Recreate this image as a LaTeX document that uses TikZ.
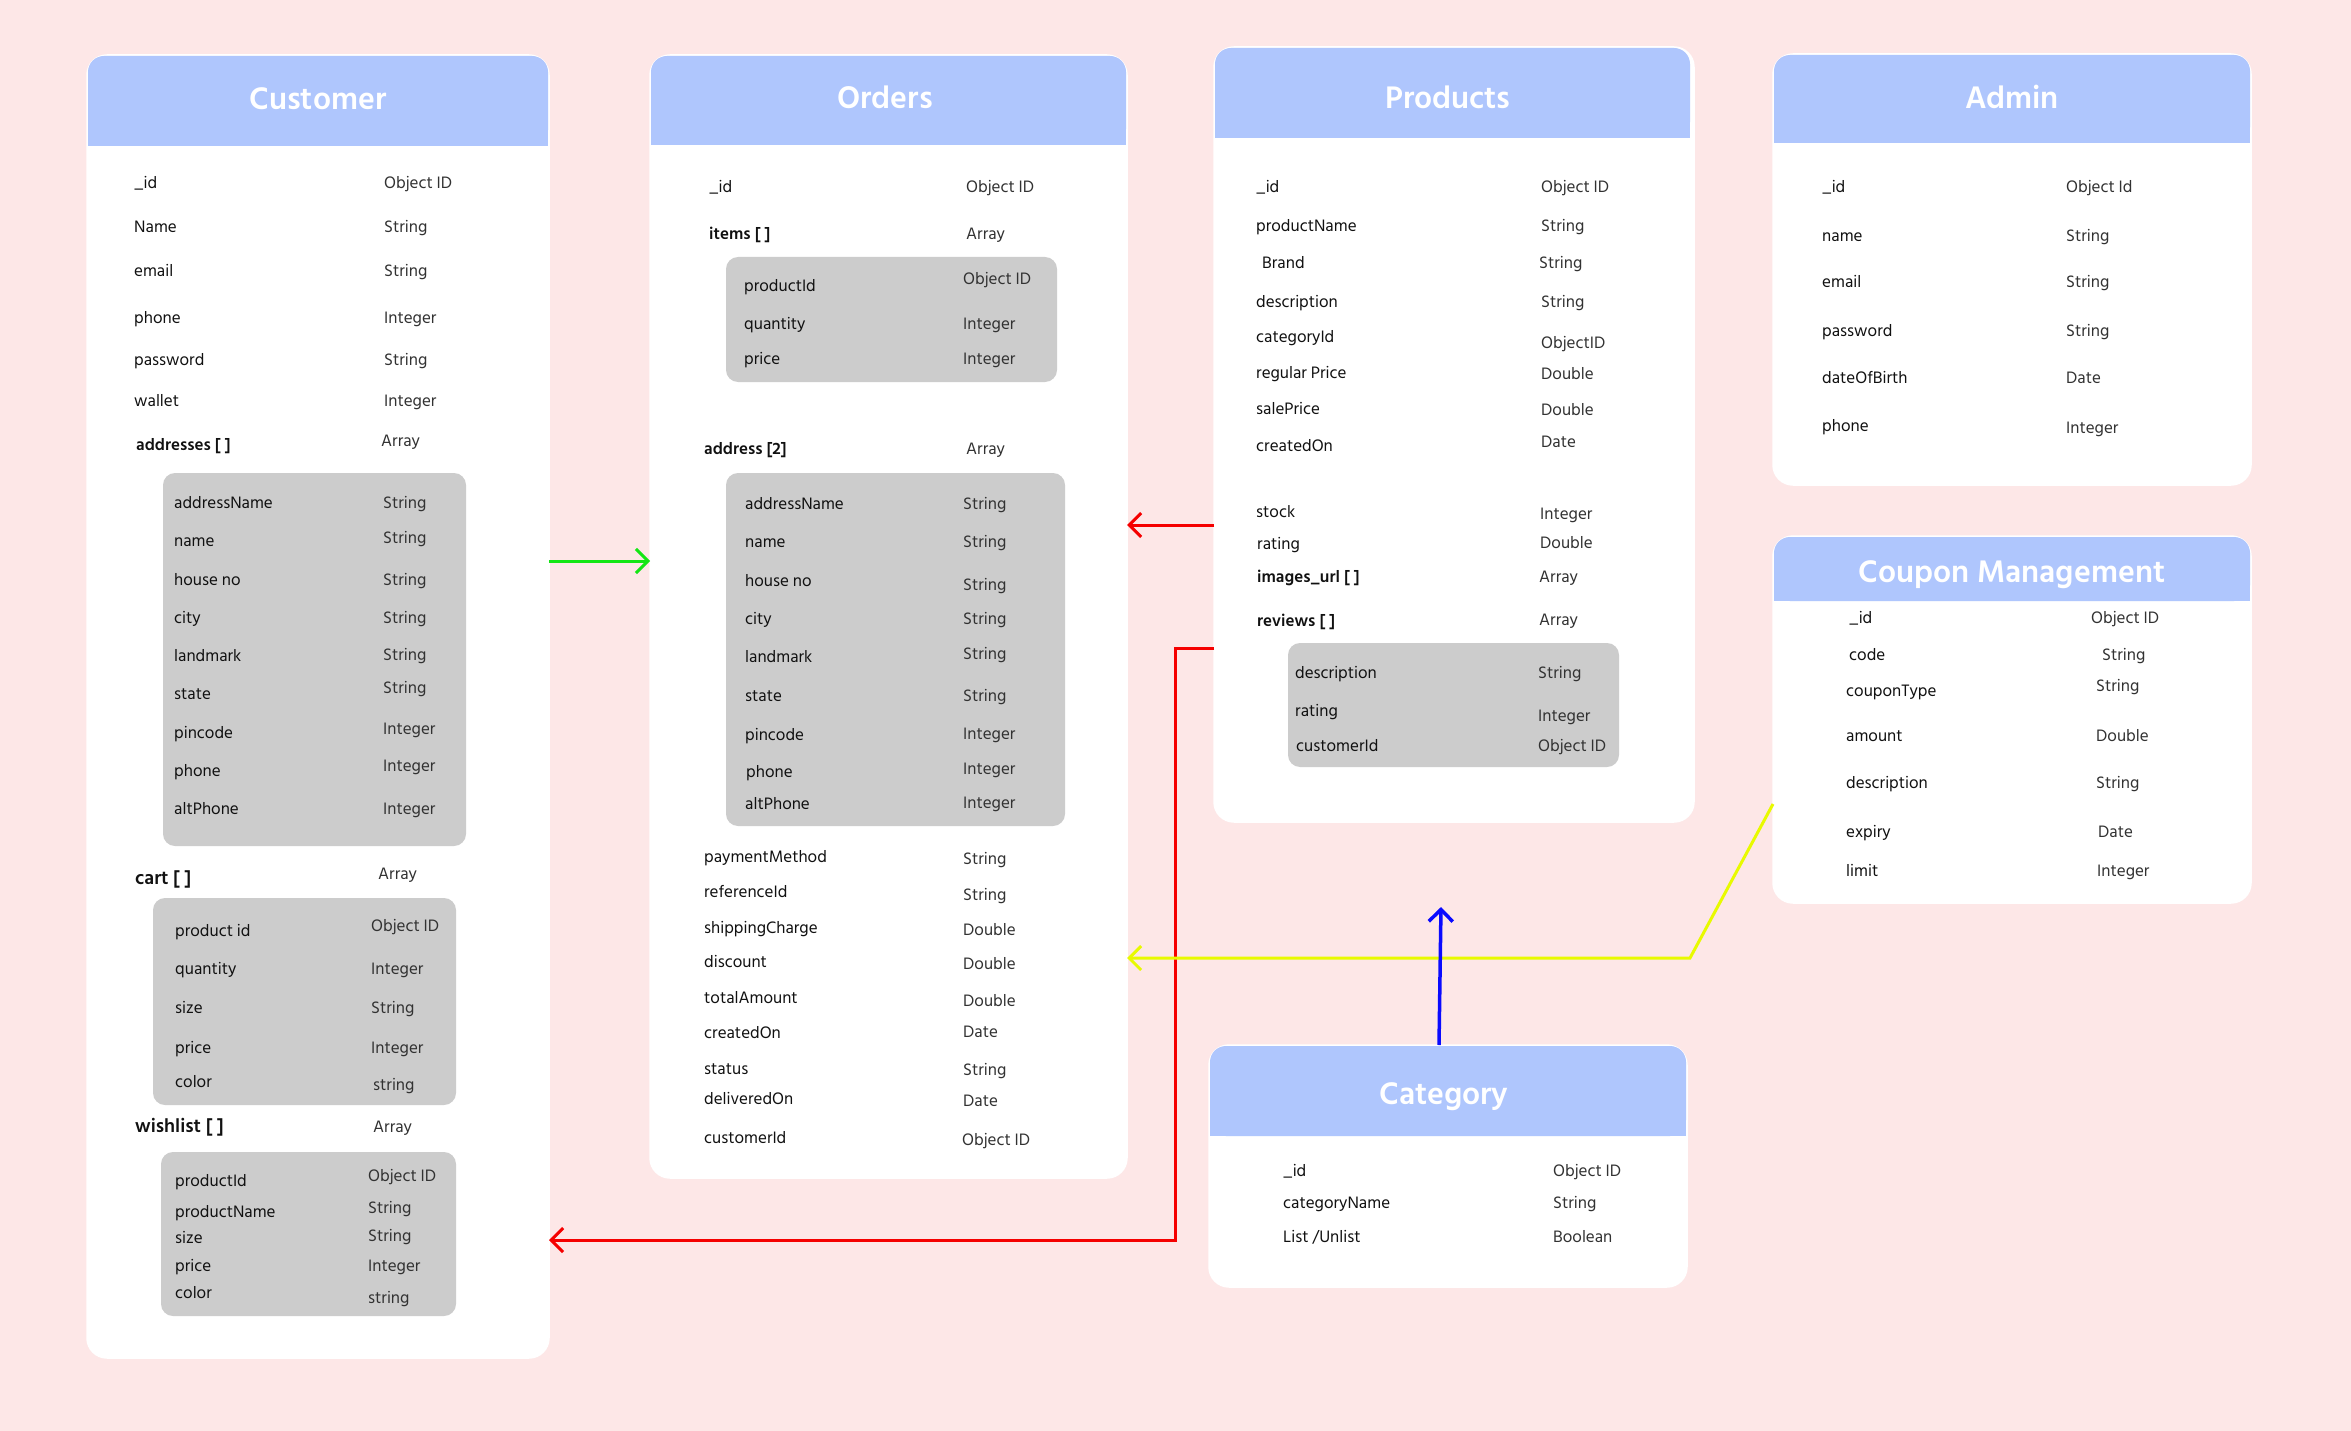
\documentclass[tikz,border=0pt]{standalone}
\usepackage{fontspec}
\setmainfont{Hind Siliguri}
\usetikzlibrary{arrows.meta}
\definecolor{bgpink}{RGB}{253,231,231}
\definecolor{hdrblue}{RGB}{175,198,253}
\definecolor{subgray}{RGB}{204,204,204}
\definecolor{fldcol}{RGB}{17,17,17}
\definecolor{typcol}{RGB}{50,50,50}
\definecolor{lnred}{RGB}{245,0,0}
\definecolor{lngreen}{RGB}{20,230,20}
\definecolor{lnyellow}{RGB}{232,250,0}
\definecolor{lnblue}{RGB}{10,10,255}
\tikzset{
 card/.style={fill=white, draw=white, line width=1.5pt, rounded corners=20pt, anchor=north west, inner sep=0pt, outer sep=0pt},
 title/.style={text=white, font=\fontsize{32}{38}\selectfont\bfseries, anchor=mid, inner sep=0pt, yshift=-8.5pt},
 fld/.style={anchor=mid west, inner sep=0pt, text=fldcol, font=\fontsize{17}{20}\selectfont, yshift=-3pt},
 typ/.style={anchor=mid west, inner sep=0pt, text=typcol, font=\fontsize{17}{20}\selectfont, yshift=-3pt},
 bfld/.style={anchor=mid west, inner sep=0pt, text=fldcol, font=\fontsize{17}{20}\selectfont\bfseries, yshift=-3pt},
 bigfld/.style={anchor=mid west, inner sep=0pt, text=fldcol, font=\fontsize{19.5}{23}\selectfont\bfseries, yshift=-3pt},
 subbox/.style={fill=subgray, rounded corners=12pt},
 conn/.style={line width=3pt, -{Straight Barb[length=12pt,width=24pt]}},
}
\newcommand\rowpair[7]{\node[fld] (#1f) at (#2,#3) {#4};\node[typ] (#1t) at (#5,#6) {#7};}
\newcommand\browpair[7]{\node[bfld] (#1f) at (#2,#3) {#4};\node[typ] (#1t) at (#5,#6) {#7};}
\newcommand\growpair[7]{\node[bigfld] (#1f) at (#2,#3) {#4};\node[typ] (#1t) at (#5,#6) {#7};}
\newcommand\hdrbar[4]{\fill[hdrblue, rounded corners=16pt] (#1,#2) rectangle (#3,#4);\fill[hdrblue] (#1,#2+25) rectangle (#3,#4);}
\begin{document}
\begin{tikzpicture}[x=1pt,y=-1pt]
\useasboundingbox (0,0) rectangle (2351,1431);
\fill[bgpink] (0,0) rectangle (2351,1431);

% ---------- cards ----------
\node[card, minimum width=462pt, minimum height=1303pt] (customer) at (87,55) {};
\node[card, minimum width=477pt, minimum height=1123pt] (orders) at (650,55) {};
\node[card, minimum width=480pt, minimum height=775pt] (products) at (1214,47) {};
\node[card, minimum width=478pt, minimum height=431pt] (admin) at (1773,54) {};
\node[card, minimum width=478pt, minimum height=367pt] (coupon) at (1773,536) {};
\node[card, minimum width=478pt, minimum height=242pt] (category) at (1209,1045) {};

\hdrbar{88}{56}{548}{146}
\hdrbar{651}{56}{1126}{145}
\hdrbar{1215}{48}{1690}{138}
\hdrbar{1774}{55}{2250}{143}
\hdrbar{1774}{537}{2250}{601}
\hdrbar{1210}{1046}{1686}{1136}

\node[title] (customert) at (318,98) {Customer};
\node[title] (orderst) at (885,97) {Orders};
\node[title] (productst) at (1448,97) {Products};
\node[title] (admint) at (2012,97) {Admin};
\node[title] (coupont) at (2012,571) {Coupon Management};
\node[title] (categoryt) at (1444,1093) {Category};

% ---------- Customer ----------
\rowpair{cu1}{134}{183}{\_id}{384}{183}{Object ID}
\rowpair{cu2}{134}{227}{Name}{384}{227}{String}
\rowpair{cu3}{134}{271}{email}{384}{271}{String}
\rowpair{cu4}{134}{318}{phone}{384}{318}{Integer}
\rowpair{cu5}{134}{360}{password}{384}{360}{String}
\rowpair{cu6}{134}{401}{wallet}{384}{401}{Integer}
\browpair{cu7}{136}{445}{addresses [ ]}{381}{441}{Array}
\fill[subbox] (163,473) rectangle (466,846);
\rowpair{ca1}{174}{503}{addressName}{383}{503}{String}
\rowpair{ca2}{174}{541}{name}{383}{538}{String}
\rowpair{ca3}{174}{580}{house no}{383}{580}{String}
\rowpair{ca4}{174}{618}{city}{383}{618}{String}
\rowpair{ca5}{174}{656}{landmark}{383}{655}{String}
\rowpair{ca6}{174}{694}{state}{383}{688}{String}
\rowpair{ca7}{174}{733}{pincode}{383}{729}{Integer}
\rowpair{ca8}{174}{771}{phone}{383}{766}{Integer}
\rowpair{ca9}{174}{809}{altPhone}{383}{809}{Integer}
\growpair{cu8}{135}{879}{cart [ ]}{378}{874}{Array}
\fill[subbox] (153,898) rectangle (456,1105);
\rowpair{cc1}{175}{931}{product id}{371}{926}{Object ID}
\rowpair{cc2}{175}{969}{quantity}{371}{969}{Integer}
\rowpair{cc3}{175}{1008}{size}{371}{1008}{String}
\rowpair{cc4}{175}{1048}{price}{371}{1048}{Integer}
\rowpair{cc5}{175}{1082}{color}{373}{1085}{string}
\growpair{cu9}{135}{1127}{wishlist [ ]}{373}{1127}{Array}
\fill[subbox] (161,1152) rectangle (456,1316);
\rowpair{cw1}{175}{1181}{productId}{368}{1176}{Object ID}
\rowpair{cw2}{175}{1212}{productName}{368}{1208}{String}
\rowpair{cw3}{175}{1238}{size}{368}{1236}{String}
\rowpair{cw4}{175}{1266}{price}{368}{1266}{Integer}
\rowpair{cw5}{175}{1293}{color}{368}{1298}{string}

% ---------- Orders ----------
\rowpair{or1}{709}{187}{\_id}{966}{187}{Object ID}
\browpair{or2}{709}{234}{items [ ]}{966}{234}{Array}
\fill[subbox] (726,257) rectangle (1057,382);
\rowpair{oi1}{744}{286}{productId}{963}{279}{Object ID}
\rowpair{oi2}{744}{324}{quantity}{963}{324}{Integer}
\rowpair{oi3}{744}{359}{price}{963}{359}{Integer}
\browpair{or3}{704}{449}{address [2]}{966}{449}{Array}
\fill[subbox] (726,473) rectangle (1065,826);
\rowpair{oa1}{745}{504}{addressName}{963}{504}{String}
\rowpair{oa2}{745}{542}{name}{963}{542}{String}
\rowpair{oa3}{745}{581}{house no}{963}{585}{String}
\rowpair{oa4}{745}{619}{city}{963}{619}{String}
\rowpair{oa5}{745}{657}{landmark}{963}{654}{String}
\rowpair{oa6}{745}{696}{state}{963}{696}{String}
\rowpair{oa7}{745}{735}{pincode}{963}{734}{Integer}
\rowpair{oa8}{746}{772}{phone}{963}{769}{Integer}
\rowpair{oa9}{745}{804}{altPhone}{963}{803}{Integer}
\rowpair{or4}{704}{857}{paymentMethod}{963}{859}{String}
\rowpair{or5}{704}{892}{referenceId}{963}{895}{String}
\rowpair{or6}{704}{928}{shippingCharge}{963}{930}{Double}
\rowpair{or7}{704}{962}{discount}{963}{964}{Double}
\rowpair{or8}{704}{998}{totalAmount}{963}{1001}{Double}
\rowpair{or9}{704}{1033}{createdOn}{963}{1032}{Date}
\rowpair{or10}{704}{1069}{status}{963}{1070}{String}
\rowpair{or11}{704}{1099}{deliveredOn}{963}{1101}{Date}
\rowpair{or12}{704}{1138}{customerId}{962}{1140}{Object ID}

% ---------- Products ----------
\rowpair{pr1}{1256}{187}{\_id}{1541}{187}{Object ID}
\rowpair{pr2}{1256}{226}{productName}{1541}{226}{String}
\rowpair{pr3}{1262}{263}{Brand}{1539}{263}{String}
\rowpair{pr4}{1256}{302}{description}{1541}{302}{String}
\rowpair{pr5}{1256}{337}{categoryId}{1541}{343}{ObjectID}
\rowpair{pr6}{1256}{373}{regular Price}{1541}{374}{Double}
\rowpair{pr7}{1256}{409}{salePrice}{1541}{410}{Double}
\rowpair{pr8}{1256}{446}{createdOn}{1541}{442}{Date}
\rowpair{pr9}{1256}{512}{stock}{1540}{514}{Integer}
\rowpair{pr10}{1257}{544}{rating}{1540}{543}{Double}
\browpair{pr11}{1257}{577}{images\_url [ ]}{1539}{577}{Array}
\browpair{pr12}{1257}{621}{reviews [ ]}{1539}{620}{Array}
\fill[subbox] (1288,643) rectangle (1619,767);
\rowpair{pv1}{1295}{673}{description}{1538}{673}{String}
\rowpair{pv2}{1295}{711}{rating}{1538}{716}{Integer}
\rowpair{pv3}{1296}{746}{customerId}{1538}{746}{Object ID}

% ---------- Admin ----------
\rowpair{ad1}{1822}{187}{\_id}{2066}{187}{Object Id}
\rowpair{ad2}{1822}{236}{name}{2066}{236}{String}
\rowpair{ad3}{1822}{282}{email}{2066}{282}{String}
\rowpair{ad4}{1822}{331}{password}{2066}{331}{String}
\rowpair{ad5}{1822}{378}{dateOfBirth}{2066}{378}{Date}
\rowpair{ad6}{1822}{426}{phone}{2066}{428}{Integer}

% ---------- Coupon ----------
\rowpair{co1}{1849}{618}{\_id}{2091}{618}{Object ID}
\rowpair{co2}{1849}{655}{code}{2102}{655}{String}
\rowpair{co3}{1846}{691}{couponType}{2096}{686}{String}
\rowpair{co4}{1846}{736}{amount}{2096}{736}{Double}
\rowpair{co5}{1846}{783}{description}{2096}{783}{String}
\rowpair{co6}{1846}{832}{expiry}{2098}{832}{Date}
\rowpair{co7}{1846}{871}{limit}{2097}{871}{Integer}

% ---------- Category ----------
\rowpair{ct1}{1283}{1171}{\_id}{1553}{1171}{Object ID}
\rowpair{ct2}{1283}{1203}{categoryName}{1553}{1203}{String}
\rowpair{ct3}{1283}{1237}{List /Unlist}{1553}{1237}{Boolean}

% ---------- connectors ----------
\coordinate (rbend) at (1175,1240);
\coordinate (ybend) at (1690,958);
\coordinate (btip) at (1441,907);
\draw[conn, lngreen] (customer.east |- 0,561) -- (orders.west |- 0,561);
\draw[conn, lnred] (products.west |- 0,525) -- (orders.east |- 0,525);
\draw[conn, lnred] (products.west |- 0,648) -| (rbend) -- (customer.east |- rbend);
\draw[conn, lnyellow] (coupon.west |- 0,804) -- (ybend) -- (orders.east |- ybend);
\draw[conn, lnblue, line width=3.5pt] (category.north -| 1439,0) -- (btip);
\end{tikzpicture}
\end{document}
